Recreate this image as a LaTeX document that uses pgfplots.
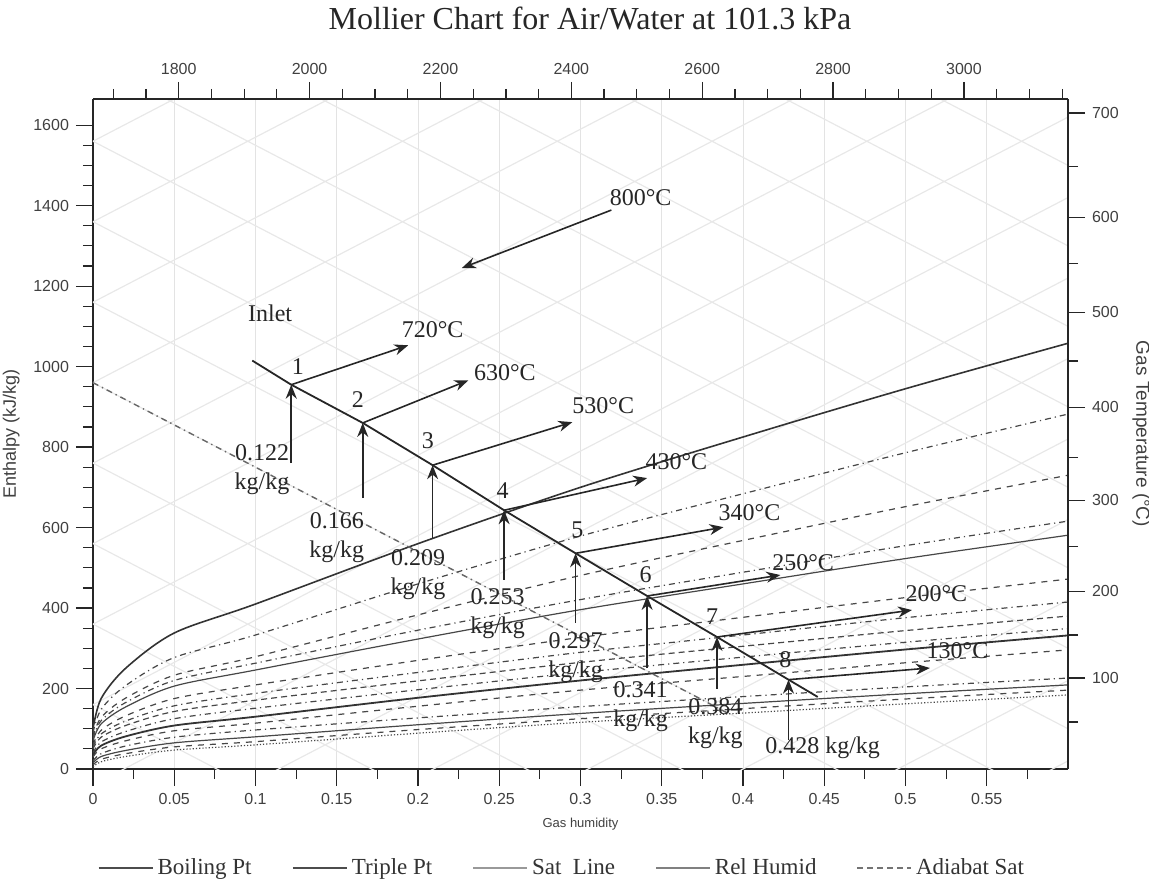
\documentclass[border=0pt]{standalone}
\usepackage{fontspec}
\setmainfont{Liberation Serif}
\setsansfont{Liberation Sans}
\usepackage{pgfplots}
\pgfplotsset{compat=1.18}
\usetikzlibrary{arrows.meta}

\definecolor{ink}{gray}{0.15}
\definecolor{lat}{gray}{0.91}

\pgfplotsset{
  mollier/.style={
    scale only axis, width=487.5pt, height=335pt,
    ymin=0, ymax=1665,
    tick align=outside,
    major tick length=8.5pt, minor tick length=5pt,
    tick style={ink, line width=0.6pt},
    axis line style={ink, line width=0.8pt},
    ticklabel style={font=\sffamily\fontsize{8}{9}\selectfont, text=black!75},
    /pgf/number format/assume math mode=true,
    /pgf/number format/1000 sep={},
  },
  rh/.style={black!72, line width=0.6pt, smooth},
  arr/.style={ink, line width=0.8pt, -{Stealth[length=7pt,width=5.5pt]}},
}
\tikzset{anno/.style={font=\fontsize{12}{14.5}\selectfont, text=black!85, align=center}}

\begin{document}
\begin{tikzpicture}
\begin{axis}[mollier,
  xmin=0, xmax=0.6,
  axis x line*=bottom, axis y line*=left,
  xtick={0,0.05,0.1,0.15,0.2,0.25,0.3,0.35,0.4,0.45,0.5,0.55},
  minor xtick={0.025,0.075,0.125,0.175,0.225,0.275,0.325,0.375,0.425,0.475,0.525,0.575},
  ytick={0,200,400,600,800,1000,1200,1400,1600},
  minor y tick num=3,
  scaled x ticks=false,
  xticklabel style={/pgf/number format/fixed, /pgf/number format/precision=2},
  xmajorgrids, major grid style={gray!22, line width=0.5pt},
  xlabel={Gas humidity}, ylabel={Enthalpy (kJ/kg)},
  xlabel style={font=\sffamily\fontsize{6.5}{7}\selectfont, text=black!75},
  ylabel style={font=\sffamily\fontsize{9}{10}\selectfont, text=black!75},
  unbounded coords=jump,
  legend columns=5,
  legend style={at={(0.482,-0.148)}, anchor=center, draw=none, fill=none,
    font=\fontsize{11.5}{13}\selectfont, text=black!80,
    /tikz/every even column/.append style={column sep=18pt}},
  legend image code/.code={\draw[#1] (0pt,0pt) -- (27pt,0pt);},
]
\addlegendimage{black!70, line width=0.9pt}\addlegendentry{Boiling Pt}
\addlegendimage{black!70, line width=1.2pt}\addlegendentry{Triple Pt}
\addlegendimage{black!40, line width=0.9pt}\addlegendentry{Sat\ \ Line}
\addlegendimage{black!50, line width=0.9pt}\addlegendentry{Rel Humid}
\addlegendimage{black!55, line width=0.8pt, densely dashed}\addlegendentry{Adiabat Sat}

% faint lattice (isotherms rising, adiabats falling)
\addplot[lat, line width=0.6pt] coordinates {
 (0,-1240) (0.6,20) (0,nan) (0,-1040) (0.6,220) (0,nan) (0,-840) (0.6,420) (0,nan)
 (0,-640) (0.6,620) (0,nan) (0,-440) (0.6,820) (0,nan) (0,-240) (0.6,1020) (0,nan)
 (0,-40) (0.6,1220) (0,nan) (0,160) (0.6,1420) (0,nan) (0,360) (0.6,1620) (0,nan)
 (0,560) (0.6,1820) (0,nan) (0,760) (0.6,2020) (0,nan) (0,960) (0.6,2220) (0,nan)
 (0,1160) (0.6,2420) (0,nan) (0,1360) (0.6,2620) (0,nan) (0,1560) (0.6,2820) (0,nan)
 (0,160) (0.6,-1100) (0,nan) (0,360) (0.6,-900) (0,nan) (0,560) (0.6,-700) (0,nan)
 (0,760) (0.6,-500) (0,nan) (0,960) (0.6,-300) (0,nan) (0,1160) (0.6,-100) (0,nan)
 (0,1360) (0.6,100) (0,nan) (0,1560) (0.6,300) (0,nan) (0,1760) (0.6,500) (0,nan)
 (0,1960) (0.6,700) (0,nan) (0,2160) (0.6,900) (0,nan) (0,2360) (0.6,1100) (0,nan)
 (0,2560) (0.6,1300) (0,nan) (0,2760) (0.6,1500)
};

% humidity curves
\addplot[rh, line width=0.8pt, black!80] coordinates {(0,100) (0.005,175) (0.02,250) (0.05,338) (0.1,410) (0.2,560) (0.3,700) (0.4,825) (0.5,945) (0.6,1058)};
\addplot[rh, dash dot] coordinates {(0,90) (0.005,148) (0.02,207) (0.05,277) (0.1,333) (0.2,460) (0.3,579) (0.4,684) (0.5,786) (0.6,882)};
\addplot[rh, dashed] coordinates {(0,80) (0.005,128) (0.02,176) (0.05,233) (0.1,279) (0.2,383) (0.3,481) (0.4,568) (0.5,652) (0.6,730)};
\addplot[rh, dash dot] coordinates {(0,75) (0.005,120) (0.02,165) (0.05,220) (0.1,263) (0.2,345) (0.3,421) (0.4,489) (0.5,555) (0.6,616)};
\addplot[rh] coordinates {(0,70) (0.005,112) (0.02,154) (0.05,206) (0.1,246) (0.2,323) (0.3,396) (0.4,460) (0.5,523) (0.6,581)};
\addplot[rh, dashed] coordinates {(0,60) (0.005,96) (0.02,132) (0.05,175) (0.1,209) (0.2,270) (0.3,327) (0.4,377) (0.5,426) (0.6,472)};
\addplot[rh, dash dot] coordinates {(0,55) (0.005,87) (0.02,119) (0.05,157) (0.1,188) (0.2,240) (0.3,290) (0.4,333) (0.5,376) (0.6,415)};
\addplot[rh, densely dashed] coordinates {(0,50) (0.005,79) (0.02,108) (0.05,143) (0.1,171) (0.2,219) (0.3,265) (0.4,305) (0.5,344) (0.6,380)};
\addplot[rh, dash dot] coordinates {(0,40) (0.005,67) (0.02,93) (0.05,125) (0.1,151) (0.2,197) (0.3,240) (0.4,278) (0.5,315) (0.6,349)};
\addplot[rh, line width=0.9pt, black!80] coordinates {(0,35) (0.005,58) (0.02,81) (0.05,108) (0.1,130) (0.2,177) (0.3,220) (0.4,259) (0.5,297) (0.6,332)};
\addplot[rh, dashed] coordinates {(0,30) (0.005,50) (0.02,70) (0.05,95) (0.1,114) (0.2,156) (0.3,196) (0.4,230) (0.5,264) (0.6,296)};
\addplot[rh, dash dot] coordinates {(0,20) (0.005,38) (0.02,57) (0.05,79) (0.1,97) (0.2,127) (0.3,155) (0.4,180) (0.5,204) (0.6,226)};
\addplot[rh] coordinates {(0,15) (0.005,31) (0.02,46) (0.05,65) (0.1,80) (0.2,110) (0.3,138) (0.4,163) (0.5,187) (0.6,209)};
\addplot[rh, dashed] coordinates {(0,10) (0.005,24) (0.02,38) (0.05,55) (0.1,68) (0.2,98) (0.3,125) (0.4,150) (0.5,174) (0.6,196)};
\addplot[rh, densely dotted] coordinates {(0,5) (0.005,18) (0.02,31) (0.05,47) (0.1,60) (0.2,89) (0.3,116) (0.4,139) (0.5,162) (0.6,184)};

% adiabatic saturation line
\addplot[black!60, line width=0.7pt, dash dot] coordinates {(0,960) (0.1,750) (0.2,540) (0.3,330) (0.39,140)};

% process line
\addplot[ink, line width=0.9pt] coordinates {(0.098,1015) (0.122,955) (0.166,860) (0.209,755) (0.253,643) (0.297,536) (0.341,430) (0.384,328) (0.428,222) (0.446,179)};

% humidity arrows
\addplot[arr] coordinates {(0.122,760) (0.122,955)};
\addplot[arr] coordinates {(0.166,673) (0.166,860)};
\addplot[arr] coordinates {(0.209,574) (0.209,755)};
\addplot[arr] coordinates {(0.253,470) (0.253,643)};
\addplot[arr] coordinates {(0.297,363) (0.297,536)};
\addplot[arr] coordinates {(0.341,251) (0.341,430)};
\addplot[arr] coordinates {(0.384,200) (0.384,328)};
\addplot[arr] coordinates {(0.428,72) (0.428,222)};

% temperature arrows
\addplot[arr] coordinates {(0.122,955) (0.194,1053)};
\addplot[arr] coordinates {(0.166,860) (0.231,966)};
\addplot[arr] coordinates {(0.209,755) (0.295,862)};
\addplot[arr] coordinates {(0.253,643) (0.341,723)};
\addplot[arr] coordinates {(0.297,536) (0.388,601)};
\addplot[arr] coordinates {(0.341,430) (0.423,482)};
\addplot[arr] coordinates {(0.384,328) (0.504,395)};
\addplot[arr] coordinates {(0.428,222) (0.515,251)};
\addplot[arr] coordinates {(0.319,1389) (0.227,1245)};

% labels
\node[anno] at (axis cs:0.109,1133) {Inlet};
\node[anno] at (axis cs:0.337,1421) {800°C};
\node[anno] at (axis cs:0.209,1091) {720°C};
\node[anno] at (axis cs:0.2535,986) {630°C};
\node[anno] at (axis cs:0.314,904) {530°C};
\node[anno] at (axis cs:0.359,763) {430°C};
\node[anno] at (axis cs:0.404,638) {340°C};
\node[anno] at (axis cs:0.437,514) {250°C};
\node[anno] at (axis cs:0.519,437) {200°C};
\node[anno] at (axis cs:0.532,293) {130°C};
\node[anno] at (axis cs:0.126,1001) {1};
\node[anno] at (axis cs:0.163,917) {2};
\node[anno] at (axis cs:0.206,817) {3};
\node[anno] at (axis cs:0.252,693) {4};
\node[anno] at (axis cs:0.298,594) {5};
\node[anno] at (axis cs:0.340,482) {6};
\node[anno] at (axis cs:0.381,378) {7};
\node[anno] at (axis cs:0.426,271) {8};
\node[anno] at (axis cs:0.104,743) {0.122\\kg/kg};
\node[anno] at (axis cs:0.150,576) {0.166\\kg/kg};
\node[anno] at (axis cs:0.200,482) {0.209\\kg/kg};
\node[anno] at (axis cs:0.249,385) {0.253\\kg/kg};
\node[anno] at (axis cs:0.297,278) {0.297\\kg/kg};
\node[anno] at (axis cs:0.337,154) {0.341\\kg/kg};
\node[anno] at (axis cs:0.383,114) {0.384\\kg/kg};
\node[anno] at (axis cs:0.449,52) {0.428 kg/kg};
\end{axis}

% top scale and gas temperature scale
\begin{axis}[mollier,
  xmin=1669, xmax=3159,
  axis x line*=top, axis y line*=right,
  xtick={1800,2000,2200,2400,2600,2800,3000},
  minor xtick={1700,1750,1850,1900,1950,2050,2100,2150,2250,2300,2350,2450,2500,2550,2650,2700,2750,2850,2900,2950,3050,3100,3150},
  ytick={226,442,668,899,1135,1371,1630},
  yticklabels={100,200,300,400,500,600,700},
  minor ytick={117,333,552,775,1014,1257,1498},
  ylabel={Gas Temperature (°C)},
  ylabel style={font=\sffamily\fontsize{9.5}{10}\selectfont, text=black!75, rotate=180},
]
\end{axis}

\node[font=\fontsize{16}{18}\selectfont, text=black!85] at (248.5pt,375.5pt) {Mollier Chart for Air/Water at 101.3 kPa};
\pgfresetboundingbox
\path[use as bounding box] (-46.5pt,-58pt) rectangle (528pt,384.5pt);
\end{tikzpicture}
\end{document}
